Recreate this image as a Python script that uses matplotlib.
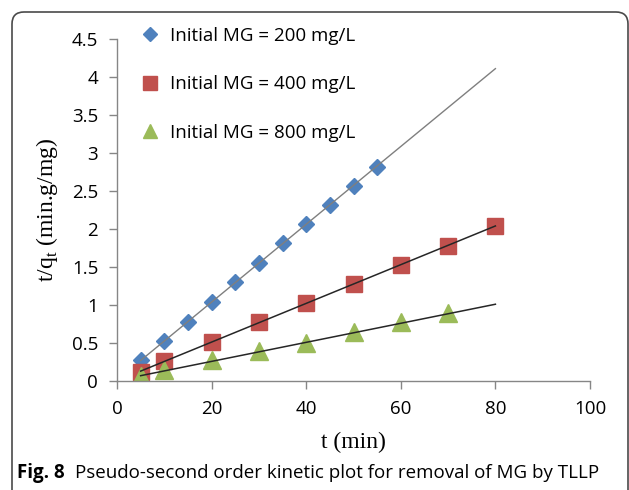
import numpy as np
import matplotlib
matplotlib.use('agg')
import matplotlib.pyplot as plt
from matplotlib.patches import FancyBboxPatch
from matplotlib.lines import Line2D

# data
t_200 = [5, 10, 15, 20, 25, 30, 35, 40, 45, 50, 55]
y_200 = [0.27, 0.53, 0.78, 1.04, 1.30, 1.55, 1.81, 2.06, 2.32, 2.57, 2.82]
t_400 = [5, 10, 20, 30, 40, 50, 60, 70, 80]
y_400 = [0.12, 0.26, 0.51, 0.77, 1.02, 1.27, 1.53, 1.78, 2.04]
t_800 = [5, 10, 20, 30, 40, 50, 60, 70]
y_800 = [0.07, 0.14, 0.27, 0.39, 0.50, 0.64, 0.77, 0.89]

# linear trend lines (end points)
fit_t = [5, 80]
fit_200 = [0.27, 4.11]
fit_400 = [0.13, 2.04]
fit_800 = [0.07, 1.01]

labels = ['Initial MG = 200 mg/L', 'Initial MG = 400 mg/L', 'Initial MG = 800 mg/L']
xticks = [0, 20, 40, 60, 80, 100]
yticks = [0, 0.5, 1, 1.5, 2, 2.5, 3, 3.5, 4, 4.5]

plt.rcParams['font.family'] = 'Open Sans'
plt.rcParams['mathtext.fontset'] = 'custom'
plt.rcParams['mathtext.rm'] = 'Liberation Serif'

fig = plt.figure(figsize=(6.29, 4.9), dpi=100)
ax = fig.add_axes([117/629, 1-381/490, 473/629, 342/490])

blue, red, green = '#4F81BD', '#C0504D', '#9BBB59'

ax.plot(fit_t, fit_200, color='#7f7f7f', lw=1.0, zorder=3)
ax.plot(fit_t, fit_400, color='#262626', lw=1.1, zorder=3)
ax.plot(fit_t, fit_800, color='#262626', lw=1.1, zorder=3)

ax.plot(t_200, y_200, 'D', color=blue, ms=8, ls='none', zorder=2)
ax.plot(t_400, y_400, 's', color=red, ms=11.5, ls='none', zorder=2)
ax.plot(t_800, y_800, '^', color=green, ms=13, ls='none', zorder=2)

ax.set_xlim(0, 100)
ax.set_ylim(0, 4.5)
ax.set_xticks(xticks)
ax.set_yticks(yticks)
ax.set_yticklabels(['%g' % v for v in yticks])
ax.tick_params(labelsize=13.5, color='#868686', length=5.5, width=1)
ax.tick_params(axis='y', pad=8)
ax.tick_params(axis='x', pad=8)

for s in ['top', 'right']:
    ax.spines[s].set_visible(False)
for s in ['left', 'bottom']:
    ax.spines[s].set_color('#868686')
    ax.spines[s].set_linewidth(1)
ax.patch.set_alpha(0)

ax.set_xlabel('t (min)', family='Liberation Serif', fontsize=17)
ax.set_ylabel(r't/q$_{\rm t}$ (min.g/mg)', family='Liberation Serif', fontsize=17)
ax.xaxis.set_label_coords(0.5, -0.15)
ax.yaxis.set_label_coords(-0.12, 0.5)

handles = [Line2D([], [], marker='D', color=blue, ms=7, ls='none'),
           Line2D([], [], marker='s', color=red, ms=9.5, ls='none'),
           Line2D([], [], marker='^', color=green, ms=10, ls='none')]
ax.legend(handles, labels, loc='upper left', bbox_to_anchor=(0.015, 1.085),
          frameon=False, fontsize=13.5, labelspacing=1.62, handletextpad=0.55,
          handlelength=1.0)

# figure frame with rounded corner
frame = FancyBboxPatch((0.12, -0.4), 6.16, 5.18,
                       boxstyle='round,pad=0,rounding_size=0.12',
                       transform=fig.dpi_scale_trans, fill=False,
                       ec='#4a4a4a', lw=1.2)
fig.patches.append(frame)

# caption
cap1 = fig.text(17/629, 17/490, 'Fig. 8', fontsize=13.5, fontweight='bold', va='center')
fig.canvas.draw()
bb = cap1.get_window_extent()
fig.text((bb.x1 + 10)/629, 17/490, 'Pseudo-second order kinetic plot for removal of MG by TLLP',
         fontsize=13.5, va='center')

fig.savefig('out.png', dpi=100)
